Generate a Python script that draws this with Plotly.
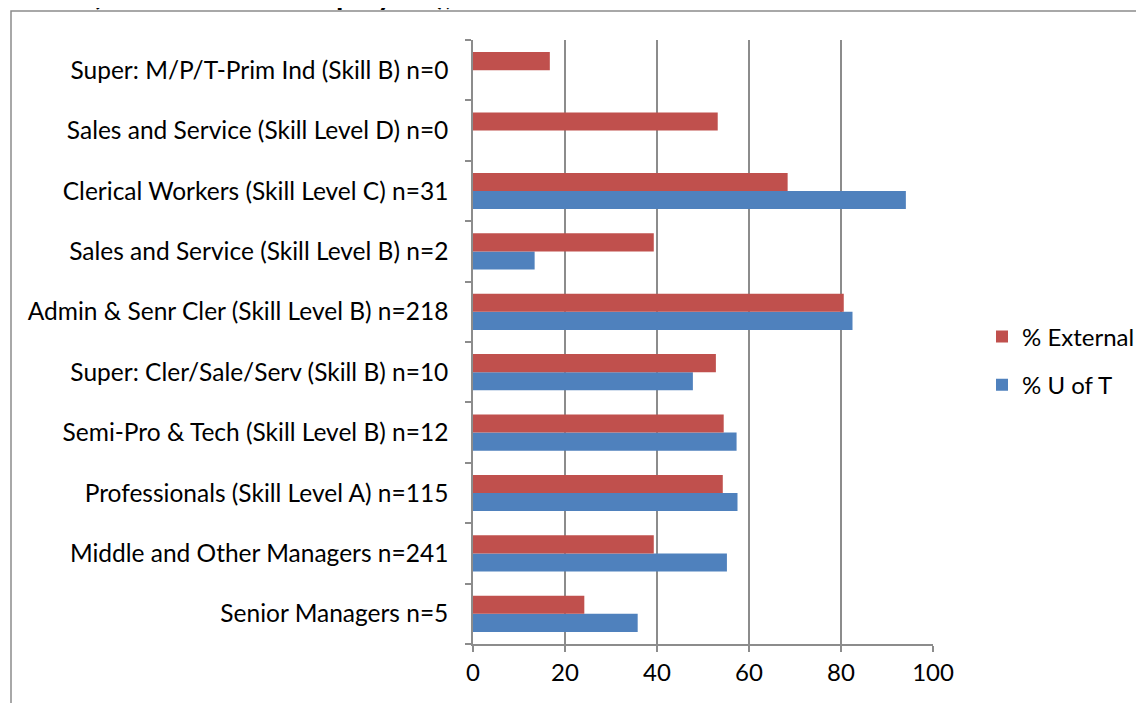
import plotly.graph_objects as go

categories = [
    "Senior Managers n=5",
    "Middle and Other Managers n=241",
    "Professionals (Skill Level A) n=115",
    "Semi-Pro & Tech (Skill Level B) n=12",
    "Super: Cler/Sale/Serv (Skill B) n=10",
    "Admin & Senr Cler (Skill Level B) n=218",
    "Sales and Service (Skill Level B) n=2",
    "Clerical Workers (Skill Level C) n=31",
    "Sales and Service (Skill Level D) n=0",
    "Super: M/P/T-Prim Ind (Skill B) n=0",
]
u_of_t = [35.8, 55.2, 57.5, 57.3, 47.8, 82.5, 13.4, 94.1, None, None]
external = [24.2, 39.3, 54.3, 54.5, 52.8, 80.6, 39.3, 68.4, 53.2, 16.7]
x_ticks = [0, 20, 40, 60, 80, 100]

FONT = "Lato"
GRID = "#8c8c8c"

fig = go.Figure()
fig.add_trace(go.Bar(y=categories, x=u_of_t, orientation="h", name="% U of T",
                     legendgroup="u", legendrank=2,
                     marker=dict(color="#4F81BD", line=dict(width=0))))
fig.add_trace(go.Bar(y=categories, x=external, orientation="h", name="% External",
                     legendgroup="e", legendrank=1,
                     marker=dict(color="#C0504D", line=dict(width=0))))

# page has an 8px body margin; figure coords = page coords - 8
OFF = 8
W, H = 1144 - OFF, 703 - OFF
L, T = 473 - OFF, 40 - OFF
pw, ph = 460, 604
R, B = W - L - pw, H - T - ph

def px_x(p):
    return (p - OFF - L) / pw

def px_y(p):
    return (T + ph - (p - OFF)) / ph

fig.update_layout(
    width=W, height=H,
    margin=dict(l=L, r=R, t=T, b=B, pad=0, autoexpand=False),
    paper_bgcolor="white", plot_bgcolor="white",
    barmode="group", bargap=0.4, bargroupgap=0,
    font=dict(family=FONT, size=24, color="black"),
    showlegend=True,
    legend=dict(x=px_x(982), y=px_y(361), xanchor="left", yanchor="middle",
                traceorder="grouped", font=dict(size=24, family=FONT),
                itemwidth=30, tracegroupgap=14, bgcolor="rgba(0,0,0,0)"),
    xaxis=dict(range=[0, 100], tickvals=x_ticks, showgrid=True, gridcolor=GRID,
               gridwidth=1.5, showline=True, linecolor=GRID, linewidth=1.5,
               ticks="outside", ticklen=6, tickcolor=GRID, tickwidth=1.5,
               tickfont=dict(size=24, family=FONT), zeroline=False,
               automargin=False, fixedrange=True),
    yaxis=dict(categoryorder="array", categoryarray=categories, showgrid=False,
               showline=True, linecolor=GRID, linewidth=1.5, ticks="outside",
               tickson="boundaries", ticklen=6, tickcolor=GRID, tickwidth=1.5,
               tickfont=dict(size=24.5, family=FONT), ticklabelstandoff=18,
               automargin=False, fixedrange=True),
)

# outer chart border (extends beyond the visible window)
fig.add_shape(type="rect", xref="paper", yref="paper",
              x0=px_x(11), x1=px_x(1300), y0=px_y(800), y1=px_y(11),
              line=dict(color="#8c8c8c", width=1.5), fillcolor="rgba(0,0,0,0)",
              layer="below")

# title mostly cut off above the window
fig.add_annotation(xref="paper", yref="paper", x=px_x(90), y=px_y(-7),
                   xanchor="left", yanchor="middle", showarrow=False,
                   text="<b>(non-academic employees),</b>",
                   font=dict(size=30, family=FONT, color="black"))

fig.write_html("out.html")
